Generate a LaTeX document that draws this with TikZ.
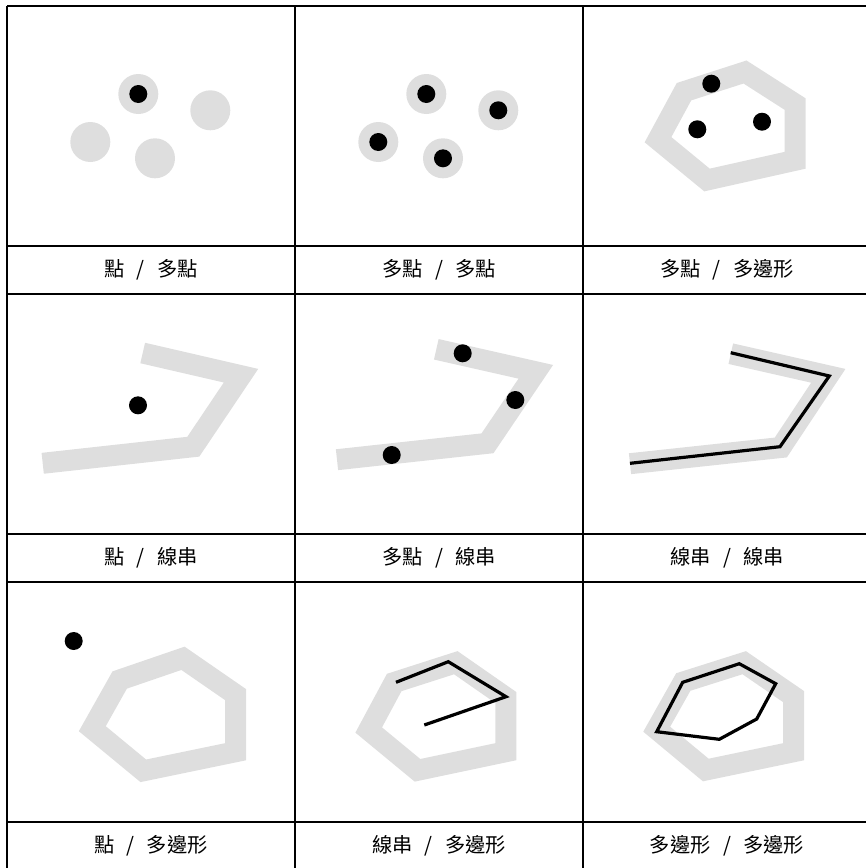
\documentclass[tikz,border=0pt]{standalone}
\usepackage{fontspec}
\newfontfamily\cjk[WordSpace=2.7]{Noto Sans CJK TC}
\definecolor{lightg}{RGB}{222,222,222}
\tikzset{
  grid line/.style={line width=1pt, black},
  halo/.style={lightg, line width=15.75pt, line join=miter, line cap=butt},
  blackline/.style={black, line width=2.4pt, line join=miter},
  halodot/.style={fill=lightg},
  dot/.style={fill=black},
  lbl/.style={font=\cjk\fontsize{15.2}{18}\selectfont, inner sep=0pt, anchor=center}
}
\begin{document}
\begin{tikzpicture}[x=0.75pt, y=-0.75pt]
\useasboundingbox (0,0) rectangle (866,868);
\begin{scope}
\clip (0,0) rectangle (866,868);
% grid
\foreach \yy in {6,246,294,534,582,822} \draw[grid line] (7,\yy) -- (880,\yy);
\foreach \xx in {7,295,583} \draw[grid line] (\xx,6) -- (\xx,880);
\end{scope}

% cell 1
\fill[halodot] (138.3,94) circle [radius=20];
\fill[halodot] (210.3,110.3) circle [radius=20];
\fill[halodot] (90.3,142) circle [radius=20];
\fill[halodot] (155,158.3) circle [radius=20];
\fill[dot] (138.3,94) circle [radius=9];

% cell 2
\fill[halodot] (426.3,94) circle [radius=20];
\fill[halodot] (498.3,110.3) circle [radius=20];
\fill[halodot] (378.3,142) circle [radius=20];
\fill[halodot] (443,158.3) circle [radius=20];
\fill[dot] (426.3,94) circle [radius=9];
\fill[dot] (498.3,110.3) circle [radius=9];
\fill[dot] (378.3,142) circle [radius=9];
\fill[dot] (443,158.3) circle [radius=9];

% cell 3
\draw[halo] (658,139.7) -- (684,91.7) -- (745,72) -- (795,104) -- (795,160.3) -- (707,180) -- cycle;
\fill[dot] (711.3,83.7) circle [radius=9];
\fill[dot] (697.3,129.3) circle [radius=9];
\fill[dot] (762,121.7) circle [radius=9];

% cell 4
\draw[halo] (142.7,353) -- (241,375.7) -- (193.3,446.7) -- (42.7,463.3);
\fill[dot] (138,405.3) circle [radius=9];

% cell 5
\draw[halo] (436.3,349.3) -- (535.8,371.8) -- (487.5,443.3) -- (337,459.7);
\fill[dot] (462.7,353.3) circle [radius=9];
\fill[dot] (515.3,400) circle [radius=9];
\fill[dot] (391.7,455) circle [radius=9];

% cell 6
\draw[halo] (730.8,353.7) -- (828.3,375.8) -- (780.8,447.5) -- (630,463.7);
\draw[blackline] (730.7,352.7) -- (829.3,376) -- (780,446.7) -- (630,463.3);

% cell 7
\draw[halo] (92.3,728.7) -- (119.7,680) -- (183,658.3) -- (235.7,694.7) -- (235.7,751.7) -- (143.3,770.8) -- cycle;
\fill[dot] (73.7,641) circle [radius=9];

% cell 8
\draw[halo] (368.7,730) -- (394.2,682.5) -- (455.8,662.7) -- (505.8,697.5) -- (505.8,751.7) -- (417.5,770.3) -- cycle;
\draw[blackline] (396,682.3) -- (448.3,661.7) -- (506,696.7) -- (424.3,725);

% cell 9
\draw[halo] (656.7,729.2) -- (683.3,682) -- (744.2,662.7) -- (793.7,696.7) -- (793.7,751.7) -- (705.8,770) -- cycle;
\draw[blackline] (656.7,731.7) -- (682.7,682.3) -- (739.3,663.7) -- (775.7,683.7) -- (756.7,719) -- (719.3,739.3) -- cycle;

% labels
\node[lbl] (l1) at (151,270) {點 / 多點};
\node[lbl] (l2) at (439,270) {多點 / 多點};
\node[lbl] (l3) at (727,270) {多點 / 多邊形};
\node[lbl] (l4) at (151,558) {點 / 線串};
\node[lbl] (l5) at (439,558) {多點 / 線串};
\node[lbl] (l6) at (727,558) {線串 / 線串};
\node[lbl] (l7) at (151,846) {點 / 多邊形};
\node[lbl] (l8) at (439,846) {線串 / 多邊形};
\node[lbl] (l9) at (727,846) {多邊形 / 多邊形};
\end{tikzpicture}
\end{document}
